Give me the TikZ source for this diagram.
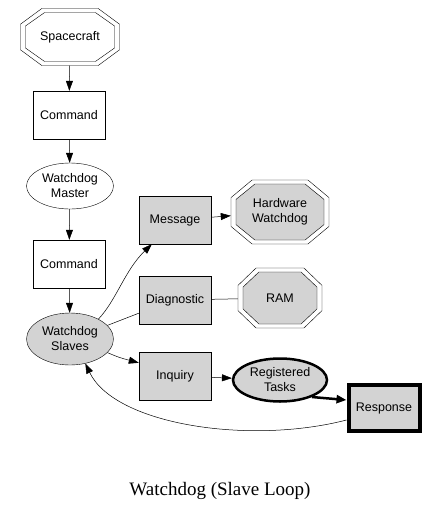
\documentclass[tikz,border=0pt]{standalone}
\usepackage{fontspec}
\setmainfont{Liberation Sans}
\newfontfamily\titlefont{Liberation Serif}
\usetikzlibrary{arrows.meta,calc,shapes.geometric}
\definecolor{lgray}{RGB}{211,211,211}
\newcommand\octo[6]{% cx cy w h fill b
  \draw[fill=#5] ({#1-0.285*(#3)},{#2-0.5*(#4)}) -- ({#1+0.285*(#3)},{#2-0.5*(#4)}) -- ({#1+0.5*(#3)},{#2-#6*(#4)}) -- ({#1+0.5*(#3)},{#2+#6*(#4)}) -- ({#1+0.285*(#3)},{#2+0.5*(#4)}) -- ({#1-0.285*(#3)},{#2+0.5*(#4)}) -- ({#1-0.5*(#3)},{#2+#6*(#4)}) -- ({#1-0.5*(#3)},{#2-#6*(#4)}) -- cycle;}
\newcommand\dbloct[6]{\octo{#1}{#2}{#3}{#4}{white}{#6}\octo{#1}{#2}{#3-10}{#4-8}{#5}{#6}}
\begin{document}
\begin{tikzpicture}[x=1pt,y=-1pt,
  every node/.style={font=\fontsize{12.5}{15}\selectfont, align=center, inner sep=0pt},
  boxw/.style={draw, rectangle, minimum width=72, minimum height=48, fill=white},
  boxg/.style={boxw, fill=lgray},
  ell/.style={draw, ellipse, minimum width=87, minimum height=46},
  oct/.style={rectangle, draw=none},
  arr/.style={-{Triangle[length=10pt,width=7pt]}, line width=0.5pt},
  ln/.style={line width=0.5pt}]
\useasboundingbox (0,0) rectangle (439,512);
\fill[white] (0,0) rectangle (439,512);
\dbloct{70}{37}{99}{57}{white}{0.225}
\dbloct{280}{212}{98}{64}{lgray}{0.225}
\dbloct{280}{298}{84}{60}{lgray}{0.21}
\node[oct, minimum width=99, minimum height=57] (sc) at (70,37) {Spacecraft};
\node[boxw] (cmd1) at (69,115) {Command};
\node[ell, fill=white] (wm) at (70,186) {Watchdog\\Master};
\node[boxw] (cmd2) at (69,264) {Command};
\node[ell, fill=lgray, minimum height=52] (ws) at (70,339) {Watchdog\\Slaves};
\node[boxg] (msg) at (175,220) {Message};
\node[boxg] (diag) at (175,300) {Diagnostic};
\node[boxg] (inq) at (175,376) {Inquiry};
\node[oct, minimum width=98, minimum height=64] (hw) at (280,212) {Hardware\\Watchdog};
\node[oct, minimum width=84, minimum height=60] (ram) at (280,298) {RAM};
\node[ell, fill=lgray, line width=2.5pt, minimum width=94, minimum height=43] (rt) at (280,380) {Registered\\Tasks};
\node[draw, rectangle, line width=4pt, fill=lgray, minimum width=71, minimum height=46] (resp) at (384,408) {Response};
\node[font=\titlefont\fontsize{19}{22}\selectfont] (title) at (220,491) {Watchdog (Slave Loop)};
\draw[arr] (sc) -- (cmd1);
\draw[arr] (cmd1) -- (wm);
\draw[arr] (wm) -- (cmd2);
\draw[arr] (cmd2) -- (ws);
\draw[arr] (ws.35) .. controls ($(ws.35)+(18,-19)$) and ($(msg.south west)+(-14,26)$) .. ($(msg.south west)+(13,0)$);
\draw[ln] (ws.20) -- ($(diag.south west)+(0,-11)$);
\draw[arr] (msg) -- (hw);
\draw[ln] (diag) -- (ram);
\draw[arr] (ws.-20) .. controls ($(ws.-20)+(12,5)$) .. ($(inq.north west)+(0,11)$);
\draw[arr] (inq) -- (rt);
\draw[-{Triangle[length=10pt,width=8pt]}, line width=2.5pt] (rt.-28) -- ($(resp.north west)+(0,17)$);
\draw[arr] ($(resp.south west)+(0,-13)$) .. controls (250,445) and (115,425) .. (ws.-58);
\end{tikzpicture}
\end{document}
